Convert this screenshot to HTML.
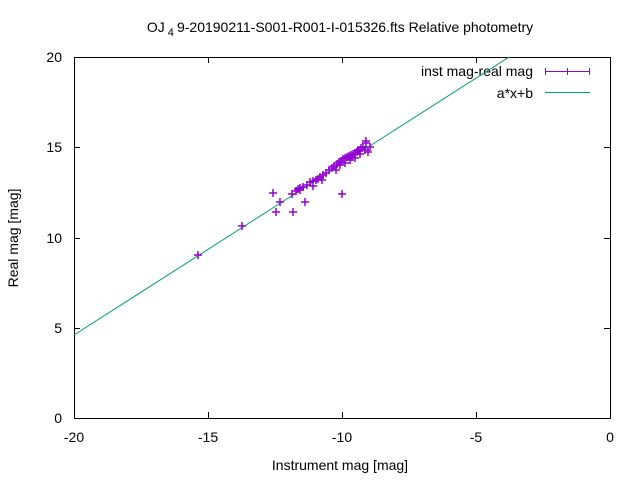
<!DOCTYPE html>
<html><head><meta charset="utf-8"><style>body{margin:0;background:#fff}svg{display:block}text{font-family:"Liberation Sans",sans-serif;font-size:14px;fill:#000}</style></head><body>
<svg width="640" height="480" viewBox="0 0 640 480">
<rect width="640" height="480" fill="#fff"/>
<rect x="74.5" y="57.5" width="536" height="361" fill="none" stroke="#000" stroke-width="1"/>
<g stroke="#000" stroke-width="1">
<path d="M74.5 418v-6M208.5 418v-6M342.5 418v-6M476.5 418v-6M610.5 418v-6M74.5 57v6M208.5 57v6M342.5 57v6M476.5 57v6M610.5 57v6"/>
<path d="M74 418.5h6M74 328.5h6M74 238.5h6M74 147.5h6M74 57.5h6M610 418.5h-6M610 328.5h-6M610 238.5h-6M610 147.5h-6M610 57.5h-6"/>
</g>
<g text-anchor="end"><text x="62" y="423">0</text><text x="62" y="333">5</text><text x="62" y="243">10</text><text x="62" y="152">15</text><text x="62" y="62">20</text></g>
<g text-anchor="middle"><text x="74" y="442">-20</text><text x="208" y="442">-15</text><text x="342" y="442">-10</text><text x="476" y="442">-5</text><text x="610" y="442">0</text>
<text x="340" y="470">Instrument mag [mag]</text>
<text x="340" y="32">OJ<tspan dy="4" font-size="11"> 4 </tspan><tspan dy="-4">9-20190211-S001-R001-I-015326.fts Relative photometry</tspan></text>
<text transform="translate(18,238) rotate(-90)">Real mag [mag]</text></g>
<text x="533" y="76" text-anchor="end">inst mag-real mag</text>
<text x="533" y="98" text-anchor="end">a*x+b</text>
<path d="M545 71.5h45M545.5 68v7M589.5 68v7M567.5 68v7" stroke="#9400d3" fill="none"/>
<path d="M545 92.5h45" stroke="#009e73"/>
<path d="M74 335L509 57" stroke="#009e73" stroke-width="1"/>
<g stroke="#9400d3" stroke-width="1.5" fill="none" id="pts"></g>
</svg>
<script>
var p=[[198,255],[242,226],[273,193],[276,212],[280,202],[293,212],[305,202],[296,191],[298,189],[300,188],[303,187],[307,185],[310,182],[313,181],[316,180],[318,179],[320,177],[323,175],[326,173],[329,170],[332,168],[334,166],[337,164],[339,162],[341,161],[343,159],[345,158],[347,157],[349,156],[351,155],[353,154],[355,153],[357,152],[359,151],[361,148],[363,147],[366,143],[370,147],[342,194],[365,150],[360,154],[355,158],[350,160],[345,163],[336,170],[322,180],[313,186],[292,194],[300,190],[340,165],[352,157],[358,150],[366,141],[368,152]];
var d="";p.forEach(function(a){d+="M"+(a[0]-4)+" "+a[1]+"h8M"+a[0]+" "+(a[1]-4)+"v8";});
document.getElementById("pts").innerHTML='<path d="'+d+'"/>';
</script>
</body></html>
